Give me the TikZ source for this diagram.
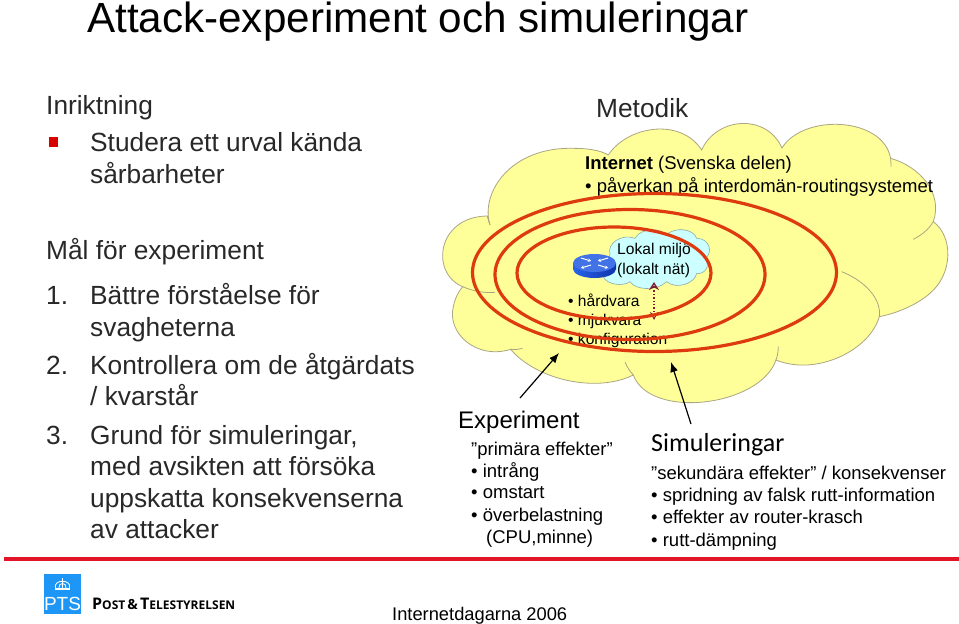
\documentclass[tikz,border=0pt]{standalone}
\usepackage{fontspec}
\setmainfont{Liberation Sans}
\newfontfamily\simfont{Carlito}
\newfontfamily\postfont{Open Sans}
\usetikzlibrary{arrows.meta}
\definecolor{cloudy}{RGB}{255,255,153}
\definecolor{cloudl}{RGB}{170,165,130}
\definecolor{ringc}{RGB}{222,58,16}
\definecolor{lokal}{RGB}{204,255,255}
\definecolor{lokall}{RGB}{140,170,170}
\definecolor{gtxt}{RGB}{40,40,40}
\definecolor{ptsb}{RGB}{30,150,245}
\definecolor{redbar}{RGB}{225,20,40}
\definecolor{darr}{RGB}{128,30,50}
\definecolor{rtop}{RGB}{65,115,230}
\definecolor{rbodyd}{RGB}{15,50,170}
\definecolor{rbodyl}{RGB}{40,100,235}
\tikzset{
 lbl/.style={anchor=base west,inner sep=0pt,font=\fontsize{26.3}{28}\selectfont,text=gtxt},
 sm/.style={anchor=base west,inner sep=0pt,font=\fontsize{18.5}{20}\selectfont,text=black},
 sm2/.style={anchor=base west,inner sep=0pt,font=\fontsize{15.6}{17}\selectfont,text=black},
 ring/.style={draw=ringc,line width=3.2pt},
 pointer/.style={draw=black,line width=1.2pt,-{Latex[length=10pt,width=8pt]}},
 rarrow/.style={draw=white,line width=1pt,-{Stealth[length=3pt,width=3.5pt]}},
}
\begin{document}
\begin{tikzpicture}[x=1pt,y=-1pt]
\useasboundingbox (0,0) rectangle (959,624);
\fill[white] (0,0) rectangle (959,624);
\node[anchor=base west,inner sep=0pt,font=\fontsize{42.2}{44}\selectfont,text=black] (title) at (87,32) {Attack-experiment och simuleringar};
\node[lbl] (inr) at (46,114) {Inriktning};
\fill[red!85!black] (49,137) rectangle (58,147);
\node[lbl] (st1) at (90,151) {Studera ett urval kända};
\node[lbl] (st2) at (90,183) {sårbarheter};
\node[lbl] (mal) at (46,259) {Mål för experiment};
\node[lbl] (n1) at (46,304) {1.};
\node[lbl] (a1) at (90,304) {Bättre förståelse för};
\node[lbl] (a2) at (90,336) {svagheterna};
\node[lbl] (n2) at (46,374) {2.};
\node[lbl] (b1) at (90,374) {Kontrollera om de åtgärdats};
\node[lbl] (b2) at (90,405) {/ kvarstår};
\node[lbl] (n3) at (46,444) {3.};
\node[lbl] (c1) at (90,444) {Grund för simuleringar,};
\node[lbl] (c2) at (90,475) {med avsikten att försöka};
\node[lbl] (c3) at (90,507) {uppskatta konsekvenserna};
\node[lbl] (c4) at (90,538) {av attacker};
\node[lbl] (met) at (596,117) {Metodik};
% big cloud
\begin{scope}[shift={(440,130)},x=0.3333pt,y=-0.3333pt]
\path[fill=cloudy,draw=cloudl,line width=0.8pt]
 (150,285) .. controls (120,190) and (210,50) .. (400,55)
 .. controls (440,55) and (480,60) .. (505,75)
 .. controls (560,-10) and (720,-40) .. (785,60)
 .. controls (830,-40) and (980,-50) .. (1026,54)
 .. controls (1090,-50) and (1330,-40) .. (1352,85)
 .. controls (1440,110) and (1510,190) .. (1480,275)
 .. controls (1540,320) and (1540,430) .. (1470,490)
 .. controls (1430,525) and (1370,550) .. (1318,560)
 .. controls (1290,660) and (1130,740) .. (1008,690)
 .. controls (960,830) and (630,870) .. (580,735)
 .. controls (470,790) and (290,750) .. (212,658)
 .. controls (110,690) and (20,610) .. (40,530)
 .. controls (45,505) and (55,485) .. (68,470)
 .. controls (-30,430) and (-10,260) .. (142,258)
 -- cycle;
\path[draw=cloudl,line width=0.8pt]
 (142,258) .. controls (145,268) and (148,278) .. (150,285)
 (1352,85) .. controls (1353,95) and (1353,102) .. (1353,110)
 (1480,275) .. controls (1465,300) and (1445,315) .. (1420,328)
 (1205,425) .. controls (1280,455) and (1325,510) .. (1318,560)
 (1015,650) .. controls (1015,665) and (1012,680) .. (1008,690)
 (555,697) .. controls (562,712) and (570,725) .. (580,735)
 (247,655) .. controls (235,658) and (222,660) .. (212,658)
 (68,470) .. controls (95,482) and (130,490) .. (165,487);
\end{scope}
% local cloud
\begin{scope}[shift={(560,225)},x=0.3333pt,y=-0.3333pt]
\path[fill=lokal,draw=lokall,line width=0.6pt]
 (150,88) .. controls (140,55) and (185,25) .. (225,40)
 .. controls (245,5) and (305,10) .. (318,30)
 .. controls (345,5) and (400,10) .. (410,40)
 .. controls (450,40) and (460,85) .. (435,100)
 .. controls (455,125) and (430,150) .. (410,145)
 .. controls (405,175) and (350,195) .. (320,170)
 .. controls (290,200) and (225,195) .. (210,170)
 .. controls (190,185) and (140,180) .. (130,155)
 -- cycle;
\end{scope}
% router
\path[left color=rbodyl,right color=rbodyd] (573,263) -- (573,269) arc[start angle=180,end angle=0,x radius=21.5,y radius=9] -- (616,263) -- cycle;
\fill[rtop] (594.5,263) ellipse[x radius=21.5,y radius=9];
\draw[rarrow] (581,258) -- (591,261);
\draw[rarrow] (608,258) -- (598,261);
\draw[rarrow] (591,265) -- (581,268);
\draw[rarrow] (598,265) -- (608,268);
% dotted double arrow
\coordinate (datop) at (654,282);
\coordinate (dabot) at (654,320);
\draw[darr,line width=1.4pt,dotted,{Stealth[length=8pt,width=10pt,open,line width=1.4pt]}-{Stealth[length=8pt,width=8pt,open,line width=1pt]}] (datop) -- (dabot);
% text inside
\node[sm] (i1) at (585,169) {\textbf{Internet} (Svenska delen)};
\node[sm] (i2) at (585,192) {• påverkan på interdomän-routingsystemet};
\node[sm2] (l1) at (617,254) {Lokal miljö};
\node[sm2] (l2) at (617,274) {(lokalt nät)};
\node[sm2] (h1) at (568,306) {• hårdvara};
\node[sm2] (h2) at (568,325) {• mjukvara};
\node[sm2] (h3) at (568,344) {• konfiguration};
% rings
\draw[ring] (614,273) ellipse[x radius=97,y radius=46];
\draw[ring] (630,274.5) ellipse[x radius=135,y radius=65];
\draw[ring] (654.5,272.5) ellipse[x radius=182,y radius=79];
% pointers
\coordinate (p1s) at (520,398);
\coordinate (p1e) at (559,353);
\coordinate (p2s) at (691,424);
\coordinate (p2e) at (671,362);
\draw[pointer] (p1s) -- (p1e);
\draw[pointer] (p2s) -- (p2e);
% experiment
\node[lbl,font=\fontsize{24}{26}\selectfont,text=black] (exp) at (458,428) {Experiment};
\node[sm] (e1) at (471,455) {”primära effekter”};
\node[sm] (e2) at (471,477) {• intrång};
\node[sm] (e3) at (471,498) {• omstart};
\node[sm] (e4) at (471,521) {• överbelastning};
\node[sm] (e5) at (486,543) {(CPU,minne)};
\node[anchor=base west,inner sep=0pt,font=\simfont\fontsize{26}{28}\selectfont] (sim) at (651,451) {Simuleringar};
\node[sm] (s1) at (651,479) {”sekundära effekter” / konsekvenser};
\node[sm] (s2) at (651,501) {• spridning av falsk rutt-information};
\node[sm] (s3) at (651,523) {• effekter av router-krasch};
\node[sm] (s4) at (651,546) {• rutt-dämpning};
% footer
\fill[redbar] (4,557) rectangle (959,561);
\fill[ptsb] (44,574) rectangle (81,614);
\node[anchor=base,inner sep=0pt,text=white,font=\fontsize{19}{20}\selectfont] (pts) at (62.5,610) {PTS};
\fill[white] (55,588) rectangle (70,590);
\draw[white,line width=0.8pt] (55.5,588) .. controls (53,579) and (72,579) .. (69.5,588);
\draw[white,line width=0.8pt] (59,588) .. controls (58,582) and (67,582) .. (66,588);
\draw[white,line width=0.8pt] (62.5,578) -- (62.5,588);
\node[anchor=base west,inner sep=0pt,font=\postfont\bfseries] (post) at (92,609) {\fontsize{16}{17}\selectfont P\fontsize{12}{13}\selectfont OST\,\fontsize{14}{15}\selectfont \&\,\fontsize{16}{17}\selectfont T\fontsize{12}{13}\selectfont ELESTYRELSEN};
\node[anchor=base west,inner sep=0pt,font=\fontsize{18.3}{20}\selectfont] (idag) at (392,620) {Internetdagarna 2006};
\end{tikzpicture}
\end{document}
